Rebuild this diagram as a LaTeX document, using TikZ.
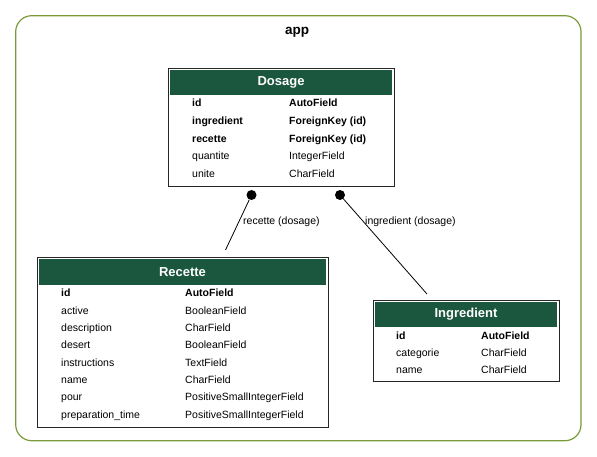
\documentclass[tikz,border=0pt]{standalone}
\usepackage{fontspec}
\setmainfont{Liberation Sans}
\usetikzlibrary{positioning}

\definecolor{headgreen}{HTML}{1B563F}
\definecolor{appframe}{HTML}{7A9A3A}

\tikzset{
	tablebox/.style={draw=black!85, line width=0.9pt, inner sep=0pt},
	header/.style={fill=headgreen, inner sep=0pt, text=white, font=\fontsize{13}{15}\selectfont\bfseries},
	field/.style={anchor=west, inner sep=0pt, text height=9pt, text depth=1.5pt, font=\fontsize{10.5}{12}\selectfont},
	keyfield/.style={field, font=\fontsize{10.5}{12}\selectfont\bfseries},
	rellabel/.style={anchor=west, inner sep=0pt, text height=9pt, text depth=1.5pt, font=\fontsize{10.5}{12}\selectfont},
	dot/.style={circle, fill=black, inner sep=0pt, minimum size=10pt},
}

\begin{document}
\begin{tikzpicture}[x=1pt, y=-1pt]
	\useasboundingbox (0,0) rectangle (597,457);
	% App cluster:
	\draw[appframe, line width=1.2pt, rounded corners=16pt] (15.7,15.7) rectangle (581,440.7);
	\node[font=\fontsize{13.5}{15}\selectfont\bfseries] (app) at (297,32.5) {app};

	% Tables:
	\node[tablebox, minimum width=226pt, minimum height=118pt] (dosage) at (281,127) {};
	\node[header, minimum width=222pt, minimum height=25pt, anchor=north] (dosage-head) at ([yshift=-2pt]dosage.north) {Dosage};
	\foreach \fstyle/\fname/\ftype/\fy [count=\i] in {keyfield/id/AutoField/102.5, keyfield/ingredient/ForeignKey (id)/120.5, keyfield/recette/ForeignKey (id)/138.5, field/quantite/IntegerField/156, field/unite/CharField/173.5}{
		\node[\fstyle] (dosage-name-\i) at (192,\fy) {\fname};
		\node[\fstyle] (dosage-type-\i) at (289,\fy) {\ftype};
	}

	\node[tablebox, minimum width=291pt, minimum height=170pt] (recette) at (182.5,342) {};
	\node[header, minimum width=287pt, minimum height=26pt, anchor=north] (recette-head) at ([yshift=-2pt]recette.north) {Recette};
	\foreach \fstyle/\fname/\ftype/\fy [count=\i] in {keyfield/id/AutoField/293, field/active/BooleanField/310.5, field/description/CharField/328, field/desert/BooleanField/345, field/instructions/TextField/362.5, field/name/CharField/380, field/pour/PositiveSmallIntegerField/397, field/preparation\_time/PositiveSmallIntegerField/414.5}{
		\node[\fstyle] (recette-name-\i) at (61,\fy) {\fname};
		\node[\fstyle] (recette-type-\i) at (185,\fy) {\ftype};
	}

	\node[tablebox, minimum width=186pt, minimum height=81pt] (ingredient) at (466,340.5) {};
	\node[header, minimum width=182pt, minimum height=25pt, anchor=north] (ingredient-head) at ([yshift=-2pt]ingredient.north) {Ingredient};
	\foreach \fstyle/\fname/\ftype/\fy [count=\i] in {keyfield/id/AutoField/336, field/categorie/CharField/353, field/name/CharField/370}{
		\node[\fstyle] (ingredient-name-\i) at (396,\fy) {\fname};
		\node[\fstyle] (ingredient-type-\i) at (481,\fy) {\ftype};
	}

	% Relations:
	\node[dot] (recette-dot) at (251.5,195) {};
	\coordinate (recette-end) at (225.5,250);
	\draw[line width=0.8pt] (recette-end) -- (recette-dot);
	\node[rellabel] (recette-label) at (243,221) {recette (dosage)};

	\node[dot] (ingredient-dot) at (340,195) {};
	\coordinate (ingredient-end) at (427,294);
	\draw[line width=0.8pt] (ingredient-end) -- (ingredient-dot);
	\node[rellabel] (ingredient-label) at (365,221) {ingredient (dosage)};
\end{tikzpicture}
\end{document}
